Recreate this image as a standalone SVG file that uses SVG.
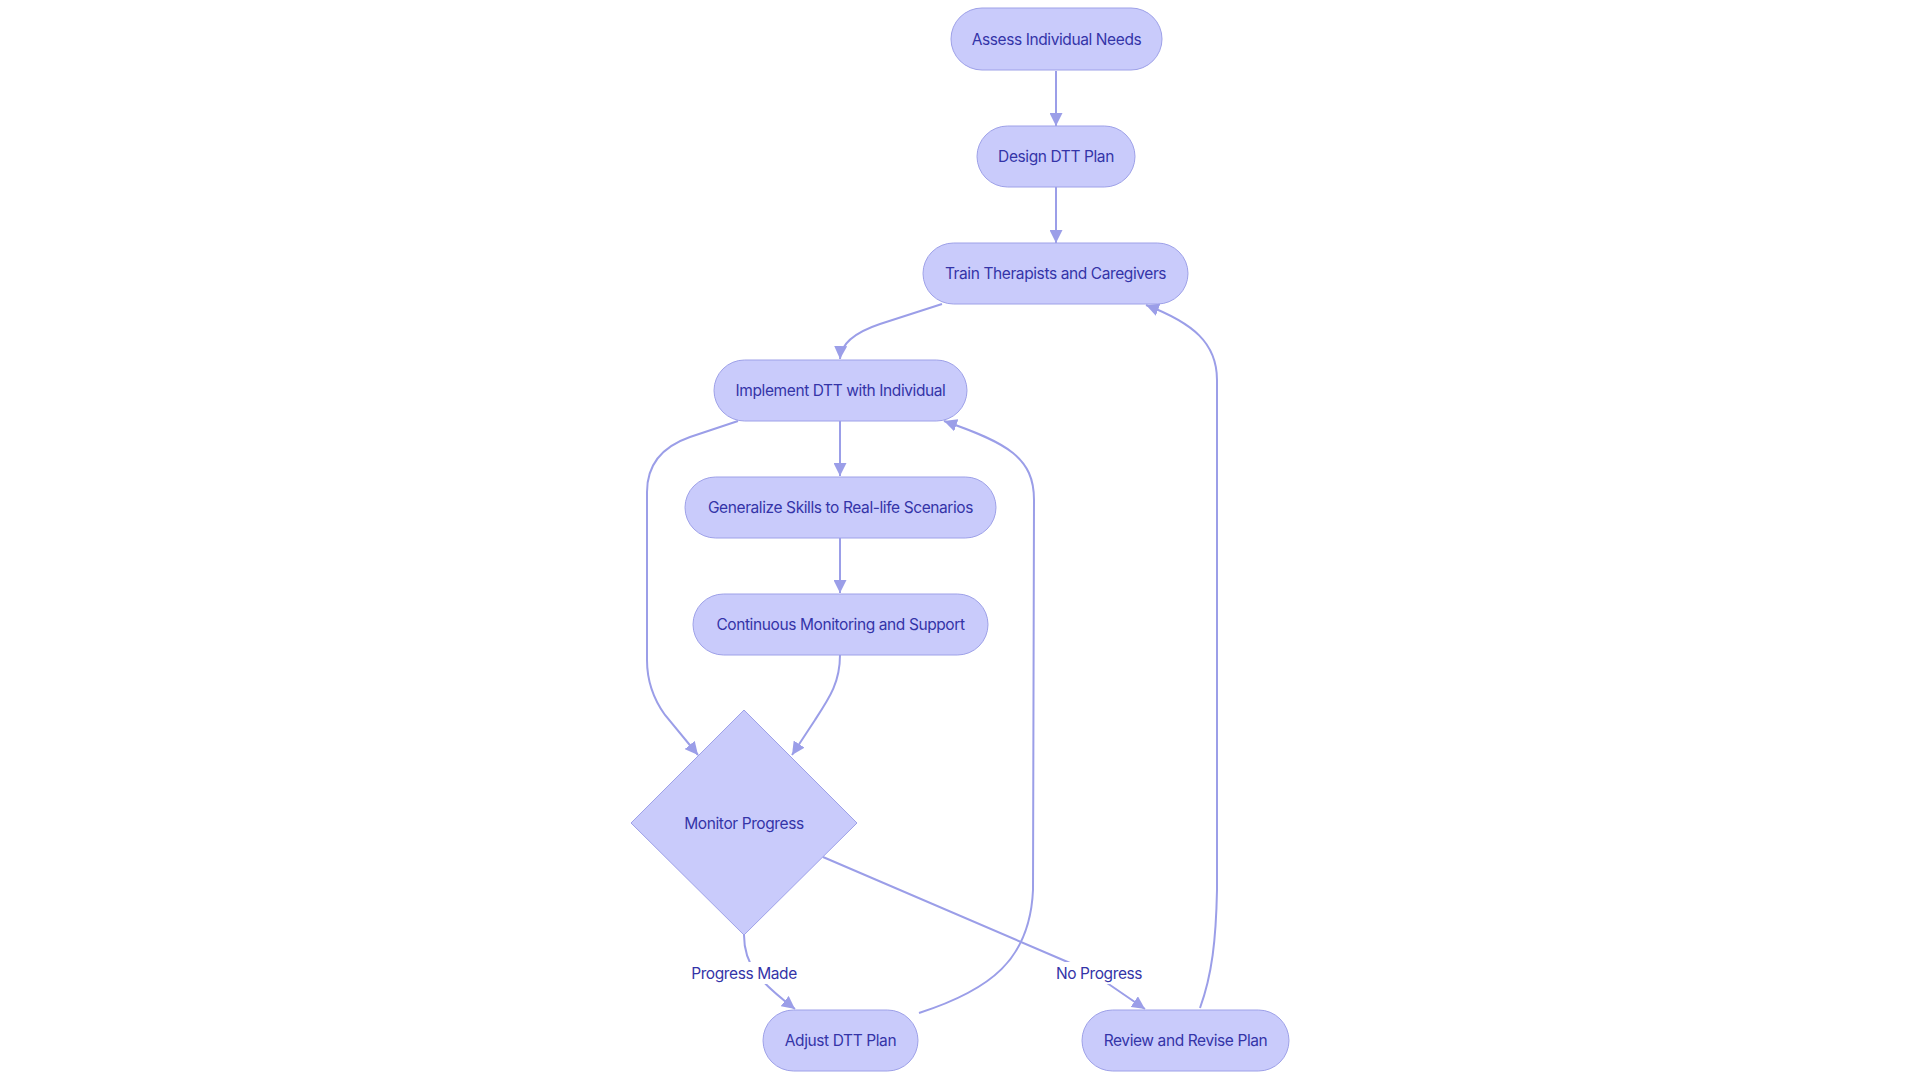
<svg xmlns="http://www.w3.org/2000/svg" width="1920" height="1080" viewBox="0 0 1920 1080">
<style>
.node rect, .node polygon { fill: #c9cbfb; stroke: #9ea1e8; stroke-width: 1; }
.node text, .lbl text { font-family: Inter, "Noto Sans", sans-serif; font-size: 15.5px; letter-spacing: -0.4px; fill: #3434a8; text-anchor: middle; dominant-baseline: central; }
.edge { fill: none; stroke: #9b9ee8; stroke-width: 2; }
.lbl rect { fill: #ffffff; }
</style>
<defs>
<marker id="arr" viewBox="0 0 10 10" refX="10" refY="5" markerWidth="13" markerHeight="13" markerUnits="userSpaceOnUse" orient="auto">
<path d="M0,0 L10,5 L0,10 z" fill="#9b9ee8"/>
</marker>
</defs>
<rect width="1920" height="1080" fill="#ffffff"/>
<g id="connectors">
<path class="edge" d="M1056,71 L1056,126" marker-end="url(#arr)"/>
<path class="edge" d="M1056,187 L1056,243" marker-end="url(#arr)"/>
<path class="edge" d="M942,304 L880,324 Q841,337 840,359" marker-end="url(#arr)"/>
<path class="edge" d="M840,421 L840,476" marker-end="url(#arr)"/>
<path class="edge" d="M840,538 L840,593" marker-end="url(#arr)"/>
<path class="edge" d="M840,655 C840,682 830,697 815,720 L792,755" marker-end="url(#arr)"/>
<path class="edge" d="M738,421 L690,437 Q647,452 647,492 L647,660 Q647,690 665,715 L698,755" marker-end="url(#arr)"/>
<path class="edge" d="M744,935 C744,966 760,982 795,1009" marker-end="url(#arr)"/>
<path class="edge" d="M823,857 L1070,963 Q1092,973 1110,985 L1145,1009" marker-end="url(#arr)"/>
<path class="edge" d="M919,1013 C990,990 1030,960 1033,890 L1034,500 C1034,458 1008,443 944,421" marker-end="url(#arr)"/>
<path class="edge" d="M1200,1008 C1212,975 1216,940 1217,890 L1217,380 C1217,343 1193,323 1146,305" marker-end="url(#arr)"/>
<g class="lbl">
<rect x="693" y="962" width="102" height="22"/>
<text x="744" y="973">Progress Made</text>
<rect x="1057" y="962" width="84" height="22"/>
<text x="1099" y="973">No Progress</text>
</g>
</g>
<g id="assess" class="node"><rect x="951" y="8" width="211" height="62" rx="31"/><text x="1056.5" y="39">Assess Individual Needs</text></g>
<g id="design" class="node"><rect x="977" y="126" width="158" height="61" rx="30.5"/><text x="1056" y="156.5">Design DTT Plan</text></g>
<g id="train" class="node"><rect x="923" y="243" width="265" height="61" rx="30.5"/><text x="1055.5" y="273.5">Train Therapists and Caregivers</text></g>
<g id="implement" class="node"><rect x="714" y="360" width="253" height="61" rx="30.5"/><text x="840.5" y="390.5">Implement DTT with Individual</text></g>
<g id="generalize" class="node"><rect x="685" y="477" width="311" height="61" rx="30.5"/><text x="840.5" y="507.5">Generalize Skills to Real-life Scenarios</text></g>
<g id="continuous" class="node"><rect x="693" y="594" width="295" height="61" rx="30.5"/><text x="840.5" y="624.5">Continuous Monitoring and Support</text></g>
<g id="monitor" class="node"><polygon points="744,710 857,823 744,935 631,823"/><text x="744" y="823">Monitor Progress</text></g>
<g id="adjust" class="node"><rect x="763" y="1010" width="155" height="61" rx="30.5"/><text x="840.5" y="1040.5">Adjust DTT Plan</text></g>
<g id="review" class="node"><rect x="1082" y="1010" width="207" height="61" rx="30.5"/><text x="1185.5" y="1040.5">Review and Revise Plan</text></g>
</svg>
